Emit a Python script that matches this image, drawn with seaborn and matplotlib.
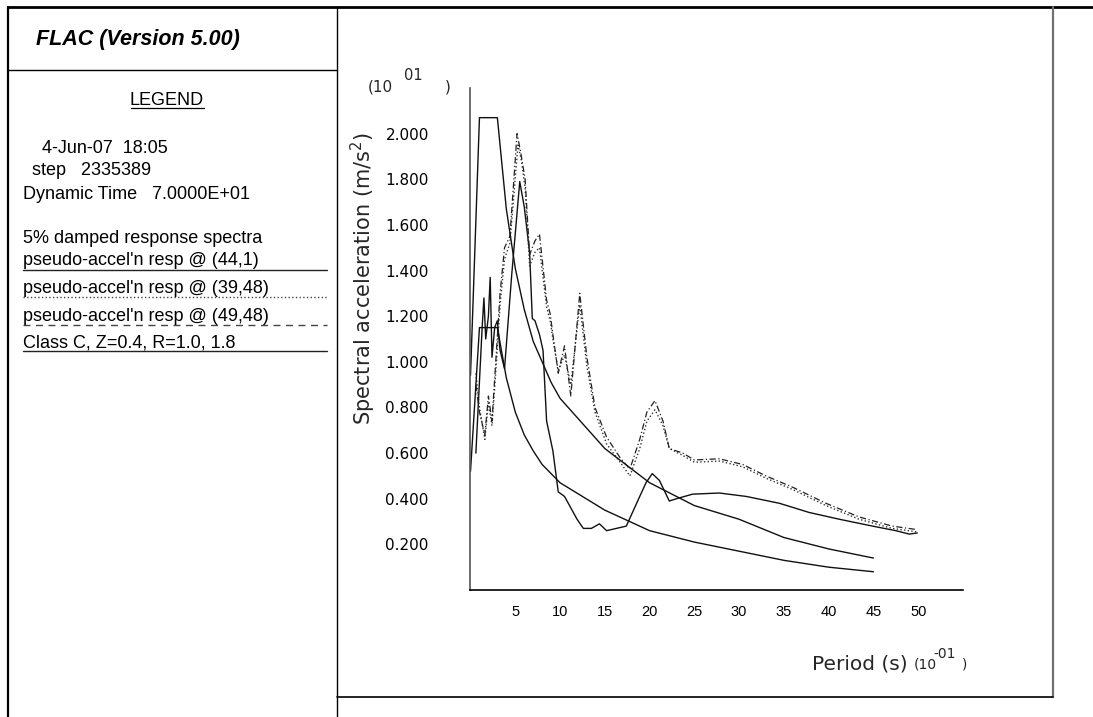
import matplotlib
matplotlib.use("Agg")
import matplotlib.pyplot as plt
from matplotlib.lines import Line2D
import seaborn as sns
import pandas as pd

# ---------------- data ----------------
# Period in units of 10^-1 s, spectral acceleration in units of 10^1 m/s^2
resp_44_1_T = [0.6, 1.3, 1.5, 1.7, 2.0, 2.2, 2.4, 2.7, 3.0, 3.3, 3.8, 4.6, 5.5, 6.0, 6.6,
               6.9, 7.2, 7.7, 8.1, 8.5, 9.2, 9.8, 10.5, 11.2, 11.9, 12.6, 13.5, 14.4, 15.2,
               16.3, 17.4, 18.9, 19.6, 20.3, 21.1, 22.2, 23.0, 24.8, 27.8, 30.8, 34.5, 37.8,
               41.2, 44.9, 47.5, 49.0, 49.9]
resp_44_1_A = [0.60, 1.15, 1.28, 1.10, 1.20, 1.37, 1.02, 1.15, 1.18, 1.05, 0.97, 1.38, 1.79,
               1.68, 1.48, 1.19, 1.18, 1.12, 1.05, 0.74, 0.61, 0.43, 0.41, 0.36, 0.31, 0.27,
               0.27, 0.29, 0.26, 0.27, 0.28, 0.41, 0.47, 0.51, 0.48, 0.39, 0.40, 0.42, 0.425,
               0.41, 0.38, 0.34, 0.31, 0.28, 0.26, 0.245, 0.25]

resp_39_48_T = [0.6, 1.0, 1.6, 2.0, 2.4, 2.9, 3.3, 3.8, 4.4, 5.3, 5.7, 6.1, 6.6, 7.2, 7.7,
                8.5, 8.9, 9.2, 9.8, 10.5, 11.2, 12.2, 13.0, 13.9, 15.2, 16.7, 17.8, 18.9,
                19.7, 20.6, 21.5, 22.2, 23.7, 25.0, 27.8, 30.4, 33.0, 36.0, 39.7, 43.4,
                47.1, 49.8]
resp_39_48_A = [0.95, 0.80, 0.66, 0.82, 0.72, 1.00, 1.25, 1.45, 1.52, 1.95, 1.88, 1.76, 1.42,
                1.48, 1.50, 1.24, 1.18, 1.10, 0.96, 1.03, 0.90, 1.25, 0.98, 0.78, 0.64, 0.56,
                0.50, 0.62, 0.74, 0.79, 0.72, 0.62, 0.59, 0.56, 0.565, 0.54, 0.49, 0.44,
                0.37, 0.31, 0.27, 0.255]

resp_49_48_T = [0.6, 1.0, 1.6, 2.0, 2.4, 2.9, 3.3, 3.8, 4.4, 5.2, 5.6, 6.1, 6.6, 7.2, 7.7,
                8.5, 8.9, 9.2, 9.8, 10.5, 11.2, 12.2, 13.0, 13.9, 15.2, 16.7, 17.8, 18.9,
                19.7, 20.6, 21.5, 22.2, 23.7, 25.0, 27.8, 30.4, 33.0, 36.0, 39.7, 43.4,
                47.1, 49.8]
resp_49_48_A = [0.90, 0.78, 0.68, 0.85, 0.74, 1.05, 1.30, 1.50, 1.55, 2.00, 1.92, 1.80, 1.47,
                1.53, 1.56, 1.27, 1.21, 1.12, 0.95, 1.07, 0.85, 1.30, 1.02, 0.80, 0.67, 0.58,
                0.53, 0.66, 0.78, 0.83, 0.74, 0.62, 0.60, 0.57, 0.575, 0.55, 0.50, 0.45,
                0.38, 0.32, 0.28, 0.265]

design_T = [0, 1, 2, 3, 4, 5, 6, 7, 8, 9, 10, 15, 20, 25, 30, 35, 40, 45]
design_R18 = [0.94, 2.07, 2.07, 2.07, 1.67, 1.41, 1.23, 1.09, 1.00, 0.91, 0.84, 0.62, 0.47,
              0.37, 0.31, 0.23, 0.18, 0.14]
design_R10 = [0.52, 1.15, 1.15, 1.15, 0.93, 0.78, 0.68, 0.61, 0.55, 0.51, 0.47, 0.35, 0.26,
              0.21, 0.17, 0.13, 0.10, 0.08]

x_ticks = [5, 10, 15, 20, 25, 30, 35, 40, 45, 50]
x_tick_labels = ["5", "10", "15", "20", "25", "30", "35", "40", "45", "50"]
y_ticks = [0.2, 0.4, 0.6, 0.8, 1.0, 1.2, 1.4, 1.6, 1.8, 2.0]
y_tick_labels = ["0.200", "0.400", "0.600", "0.800", "1.000", "1.200", "1.400", "1.600",
                 "1.800", "2.000"]

legend_lines = ["pseudo-accel'n resp @ (44,1)", "pseudo-accel'n resp @ (39,48)",
                "pseudo-accel'n resp @ (49,48)", "Class C, Z=0.4, R=1.0, 1.8"]

# ---------------- figure ----------------
sns.set_theme(style="white")
plt.rcParams["font.family"] = ["DejaVu Sans"]

W, H = 1093, 717
fig = plt.figure(figsize=(W / 100, H / 100), dpi=100)
fig.patch.set_facecolor("white")


def fx(px):
    return px / W


def fy(py):
    return 1 - py / H


# frame lines
def fline(x0, y0, x1, y1, lw=1.2, color="black", ls="-"):
    fig.add_artist(Line2D([fx(x0), fx(x1)], [fy(y0), fy(y1)], lw=lw, color=color,
                          linestyle=ls, transform=fig.transFigure))


fline(8, 7, 1093, 7, lw=2.0)
fline(8, 7, 8, 717, lw=1.6)
fline(337, 7, 337, 717, lw=1.0)
fline(8, 70, 337, 70, lw=1.0)
fline(1053, 7, 1053, 697, lw=1.6, color="#707070")
fline(337, 697, 1053, 697, lw=1.2)

# left panel texts
lab = dict(family="Liberation Sans", color="black")
fig.text(fx(36), fy(45), "FLAC (Version 5.00)", fontsize=15.5, fontweight="bold",
         fontstyle="italic", va="baseline", ha="left", **lab)
fig.text(fx(167), fy(105), "LEGEND", fontsize=13, ha="center", va="baseline", **lab)
fline(131, 107.5, 204, 107.5, lw=0.9)
fig.text(fx(42), fy(153), "4-Jun-07  18:05", fontsize=13, va="baseline", **lab)
fig.text(fx(32), fy(175), "step   2335389", fontsize=13, va="baseline", **lab)
fig.text(fx(23), fy(199), "Dynamic Time   7.0000E+01", fontsize=13, va="baseline", **lab)
fig.text(fx(23), fy(243), "5% damped response spectra", fontsize=13, va="baseline", **lab)

legend_baselines = [265, 293, 321, 348]
legend_rule_y = [270, 296.5, 324.5, 351]
legend_styles = ["-", ":", (0, (5, 4)), "-"]
for txt, yb, yr, ls in zip(legend_lines, legend_baselines, legend_rule_y, legend_styles):
    fig.text(fx(23), fy(yb), txt, fontsize=13, va="baseline", **lab)
    fline(23, yr, 327, yr, lw=1.0, ls=ls, color="#222222" if ls == "-" else "#444444")

# ---------------- axes ----------------
ax = fig.add_axes([fx(470.5), fy(590), (963 - 470.5) / W, (590 - 88) / H])
ax.set_facecolor("white")

df_list = [
    (resp_44_1_T, resp_44_1_A, "-", "#111111", 1.0),
    (resp_39_48_T, resp_39_48_A, ":", "#333333", 1.0),
    (resp_49_48_T, resp_49_48_A, (0, (5, 2, 1, 2)), "#222222", 0.9),
    (design_T, design_R18, "-", "#111111", 1.0),
    (design_T, design_R10, "-", "#111111", 1.0),
]
for xs, ys, ls, col, lw in df_list:
    d = pd.DataFrame({"T": xs, "A": ys})
    sns.lineplot(data=d, x="T", y="A", ax=ax, color=col, linewidth=lw, linestyle=ls,
                 estimator=None, sort=False)

ax.set_xlim(0, 55)
ax.set_ylim(0, 2.2)
ax.set_xticks(x_ticks)
ax.set_xticklabels(x_tick_labels, family="Liberation Sans", fontsize=10.5)
ax.set_yticks(y_ticks)
ax.set_yticklabels(y_tick_labels, fontsize=11)
ax.tick_params(axis="x", direction="out", length=6, width=1, pad=5, colors="black")
ax.tick_params(axis="y", direction="out", length=4, width=1, pad=26, colors="black")
for s in ["top", "right"]:
    ax.spines[s].set_visible(False)
ax.spines["left"].set_color("#555555")
ax.spines["bottom"].set_color("black")
ax.spines["left"].set_linewidth(1.2)
ax.spines["bottom"].set_linewidth(1.2)
ax.set_xlabel("")
ax.set_ylabel("")
ax.grid(False)

# axis labels and multipliers
fig.text(fx(363), fy(279), "Spectral acceleration (m/s$^2$)", rotation=90, fontsize=15,
         ha="center", va="center")
fig.text(fx(368), fy(92), "(10", fontsize=11, ha="left", va="baseline")
fig.text(fx(404), fy(80), "01", fontsize=10.5, ha="left", va="baseline")
fig.text(fx(445), fy(92), ")", fontsize=11, ha="left", va="baseline")

fig.text(fx(812), fy(669), "Period (s)", fontsize=14.5, ha="left", va="baseline")
fig.text(fx(914), fy(669), "(10", fontsize=10, ha="left", va="baseline")
fig.text(fx(933), fy(658), "-01", fontsize=10, ha="left", va="baseline")
fig.text(fx(962), fy(669), ")", fontsize=10, ha="left", va="baseline")

fig.savefig("out.png", dpi=100, facecolor="white")
